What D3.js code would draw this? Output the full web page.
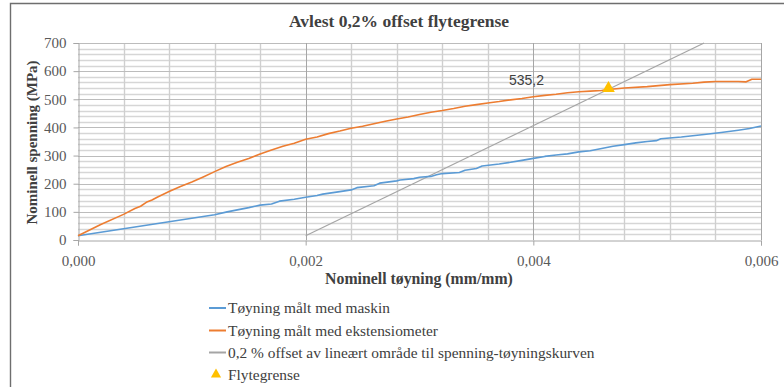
<!DOCTYPE html>
<html>
<head>
<meta charset="utf-8">
<script src="https://cdn.jsdelivr.net/npm/d3@7"></script>
<style>
html,body{margin:0;padding:0;background:#fff;}
svg{display:block;}
</style>
</head>
<body>
<svg id="chart" width="784" height="387"></svg>
<script>
// ---- data ----
const chartTitle = "Avlest 0,2% offset flytegrense";
const xTitle = "Nominell tøyning (mm/mm)";
const yTitle = "Nominell spenning (MPa)";
const xTicks = [0, 0.002, 0.004, 0.006];
const yTicks = [0, 100, 200, 300, 400, 500, 600, 700];

const maskinStrain = [0,0.0012,0.00131,0.0015,0.0016,0.0017,0.00177,0.0019,0.002,0.0021,0.00215,0.0023,0.0024,0.00245,0.0026,0.00265,0.0028,0.00283,0.00295,0.003,0.0031,0.00315,0.0032,0.00335,0.0034,0.0035,0.00355,0.0037,0.0038,0.0039,0.004,0.0041,0.0042,0.0043,0.0044,0.0045,0.0046,0.0047,0.0048,0.0049,0.005,0.00508,0.00512,0.0053,0.0055,0.00565,0.0058,0.0059,0.006];
const maskinStress = [15,90,100,115,124,128,138,145,152,158,163,172,178,186,193,202,210,213,218,223,226,232,236,240,248,254,263,270,276,283,290,297,302,306,313,317,325,333,339,345,350,353,360,366,375,382,390,396,405];

const ekstStrain = [0,0.0002,0.0004,0.0005,0.00055,0.0006,0.00065,0.0007,0.0008,0.0009,0.001,0.0011,0.0012,0.0013,0.0014,0.0015,0.0016,0.0017,0.0018,0.0019,0.002,0.0021,0.0022,0.0023,0.0024,0.0025,0.0026,0.0027,0.0028,0.0029,0.003,0.0031,0.0032,0.0033,0.0034,0.0035,0.0036,0.0037,0.0038,0.0039,0.004,0.0041,0.0042,0.0043,0.0044,0.0045,0.0046,0.00466,0.0048,0.005,0.0052,0.0054,0.0055,0.0056,0.0058,0.00587,0.00592,0.006];
const ekstStress = [15,55,91,112,120,134,142,153,172,190,206,224,243,261,276,290,306,320,333,344,358,366,378,387,397,404,413,422,430,437,446,454,460,467,475,481,487,492,498,503,509,514,518,523,527,529,531,535,540,545,552,557,561,563,563,562,571,571];

const offsetStrain = [0.002, 0.0055];
const offsetStress = [15, 700];

const yieldStrain = [0.00466];
const yieldStress = [535.2];
const yieldLabel = ["535,2"];

const legendLabels = [
  "Tøyning målt med maskin",
  "Tøyning målt med ekstensiometer",
  "0,2 % offset av lineært område til spenning-tøyningskurven",
  "Flytegrense"
];
const colors = ["#5B9BD5", "#ED7D31", "#A5A5A5", "#FFC000"];

// ---- drawing ----
const svg = d3.select("#chart");
const serif = "'Liberation Serif', 'Times New Roman', serif";
const x = d3.scaleLinear().domain([0, 0.006]).range([78, 761]);
const y = d3.scaleLinear().domain([0, 700]).range([240, 43]);

// outer border
svg.append("path").attr("d", "M10.5,387 V3.5 H784")
  .attr("fill", "none").attr("stroke", "#6e6e6e").attr("stroke-width", 1.4);

// title
svg.append("text").attr("x", 399).attr("y", 26.5).attr("text-anchor", "middle")
  .attr("font-family", serif).attr("font-weight", "bold").attr("font-size", 17.5)
  .attr("fill", "#404040").text(chartTitle);

const grid = svg.append("g");
// minor horizontal grid every 20
const yMinor = d3.range(20, 701, 20).filter(v => v % 100 !== 0);
grid.selectAll(".hmin").data(yMinor).join("line")
  .attr("x1", x(0)).attr("x2", x(0.006))
  .attr("y1", d => Math.round(y(d)) + 0.5).attr("y2", d => Math.round(y(d)) + 0.5)
  .attr("stroke", "#d6d6d6").attr("stroke-width", 1.3);
// minor vertical grid every 0.0004
const xMinor = d3.range(1, 16).map(i => i * 0.0004).filter((v, i) => (i + 1) % 5 !== 0);
grid.selectAll(".vmin").data(xMinor).join("line")
  .attr("y1", y(0)).attr("y2", y(700))
  .attr("x1", d => Math.round(x(d)) + 0.5).attr("x2", d => Math.round(x(d)) + 0.5)
  .attr("stroke", "#cfcfcf").attr("stroke-width", 1.4);
// major horizontal
grid.selectAll(".hmaj").data(yTicks.slice(1)).join("line")
  .attr("x1", x(0)).attr("x2", x(0.006))
  .attr("y1", d => Math.round(y(d)) + 0.5).attr("y2", d => Math.round(y(d)) + 0.5)
  .attr("stroke", "#bcbcbc").attr("stroke-width", 1.2);
// major vertical
grid.selectAll(".vmaj").data(xTicks.slice(1)).join("line")
  .attr("y1", y(0)).attr("y2", y(700))
  .attr("x1", d => Math.round(x(d)) + 0.5).attr("x2", d => Math.round(x(d)) + 0.5)
  .attr("stroke", "#a6a6a6").attr("stroke-width", 1);

// axes
const fmt = v => d3.format(".3f")(v).replace(".", ",");
const xAxis = svg.append("g").attr("transform", `translate(0,${y(0) + 0.5})`)
  .call(d3.axisBottom(x).tickValues(xTicks).tickFormat(fmt).tickSize(5).tickPadding(10));
const yAxis = svg.append("g").attr("transform", `translate(${x(0) + 0.5},0)`)
  .call(d3.axisLeft(y).tickValues(yTicks).tickSize(5).tickPadding(7));
[xAxis, yAxis].forEach(a => {
  a.select(".domain").attr("stroke", "#a6a6a6");
  a.selectAll(".tick line").attr("stroke", "#a6a6a6");
  a.selectAll(".tick text").attr("font-family", serif).attr("font-size", 15).attr("fill", "#595959");
});

// axis titles
svg.append("text").attr("x", 419).attr("y", 284).attr("text-anchor", "middle")
  .attr("font-family", serif).attr("font-weight", "bold").attr("font-size", 15.8)
  .attr("fill", "#404040").text(xTitle);
svg.append("text").attr("transform", `translate(37,${(y(0) + y(700)) / 2 + 1}) rotate(-90)`)
  .attr("text-anchor", "middle")
  .attr("font-family", serif).attr("font-weight", "bold").attr("font-size", 15)
  .attr("fill", "#404040").text(yTitle);

// series
const line = d3.line().x(d => x(d[0])).y(d => y(d[1]));
const offsetData = d3.zip(offsetStrain, offsetStress);
const maskinData = d3.zip(maskinStrain, maskinStress);
const ekstData = d3.zip(ekstStrain, ekstStress);
svg.append("path").datum(offsetData).attr("d", line).attr("fill", "none")
  .attr("stroke", colors[2]).attr("stroke-width", 1.2);
svg.append("path").datum(maskinData).attr("d", line).attr("fill", "none")
  .attr("stroke", colors[0]).attr("stroke-width", 1.6).attr("stroke-linejoin", "round");
svg.append("path").datum(ekstData).attr("d", line).attr("fill", "none")
  .attr("stroke", colors[1]).attr("stroke-width", 1.6).attr("stroke-linejoin", "round");

// yield point
const tri = d3.symbol().type(d3.symbolTriangle).size(70);
const yieldData = d3.zip(yieldStrain, yieldStress, yieldLabel);
svg.selectAll(".yield").data(yieldData).join("path")
  .attr("transform", d => `translate(${x(d[0])},${y(d[1]) - 1})`)
  .attr("d", tri).attr("fill", colors[3]);
svg.selectAll(".ylab").data(yieldData).join("text")
  .attr("x", d => x(d[0]) - 82).attr("y", d => y(d[1]) - 4)
  .attr("text-anchor", "middle")
  .attr("font-family", "'Liberation Sans', Arial, sans-serif").attr("font-size", 14)
  .attr("fill", "#404040").text(d => d[2]);

// legend
const legY = [308, 330.5, 352.5, 374.5];
const leg = svg.append("g");
legendLabels.forEach((lab, i) => {
  const g = leg.append("g");
  if (i < 3) {
    g.append("line").attr("x1", 209).attr("x2", 226).attr("y1", legY[i]).attr("y2", legY[i])
      .attr("stroke", colors[i]).attr("stroke-width", 2);
  } else {
    g.append("path").attr("transform", `translate(216,${legY[i]})`)
      .attr("d", d3.symbol().type(d3.symbolTriangle).size(45)).attr("fill", colors[3]);
  }
  g.append("text").attr("x", 228).attr("y", legY[i] + 5)
    .attr("font-family", serif).attr("font-size", 15.4).attr("fill", "#404040").text(lab);
});
</script>
</body>
</html>
